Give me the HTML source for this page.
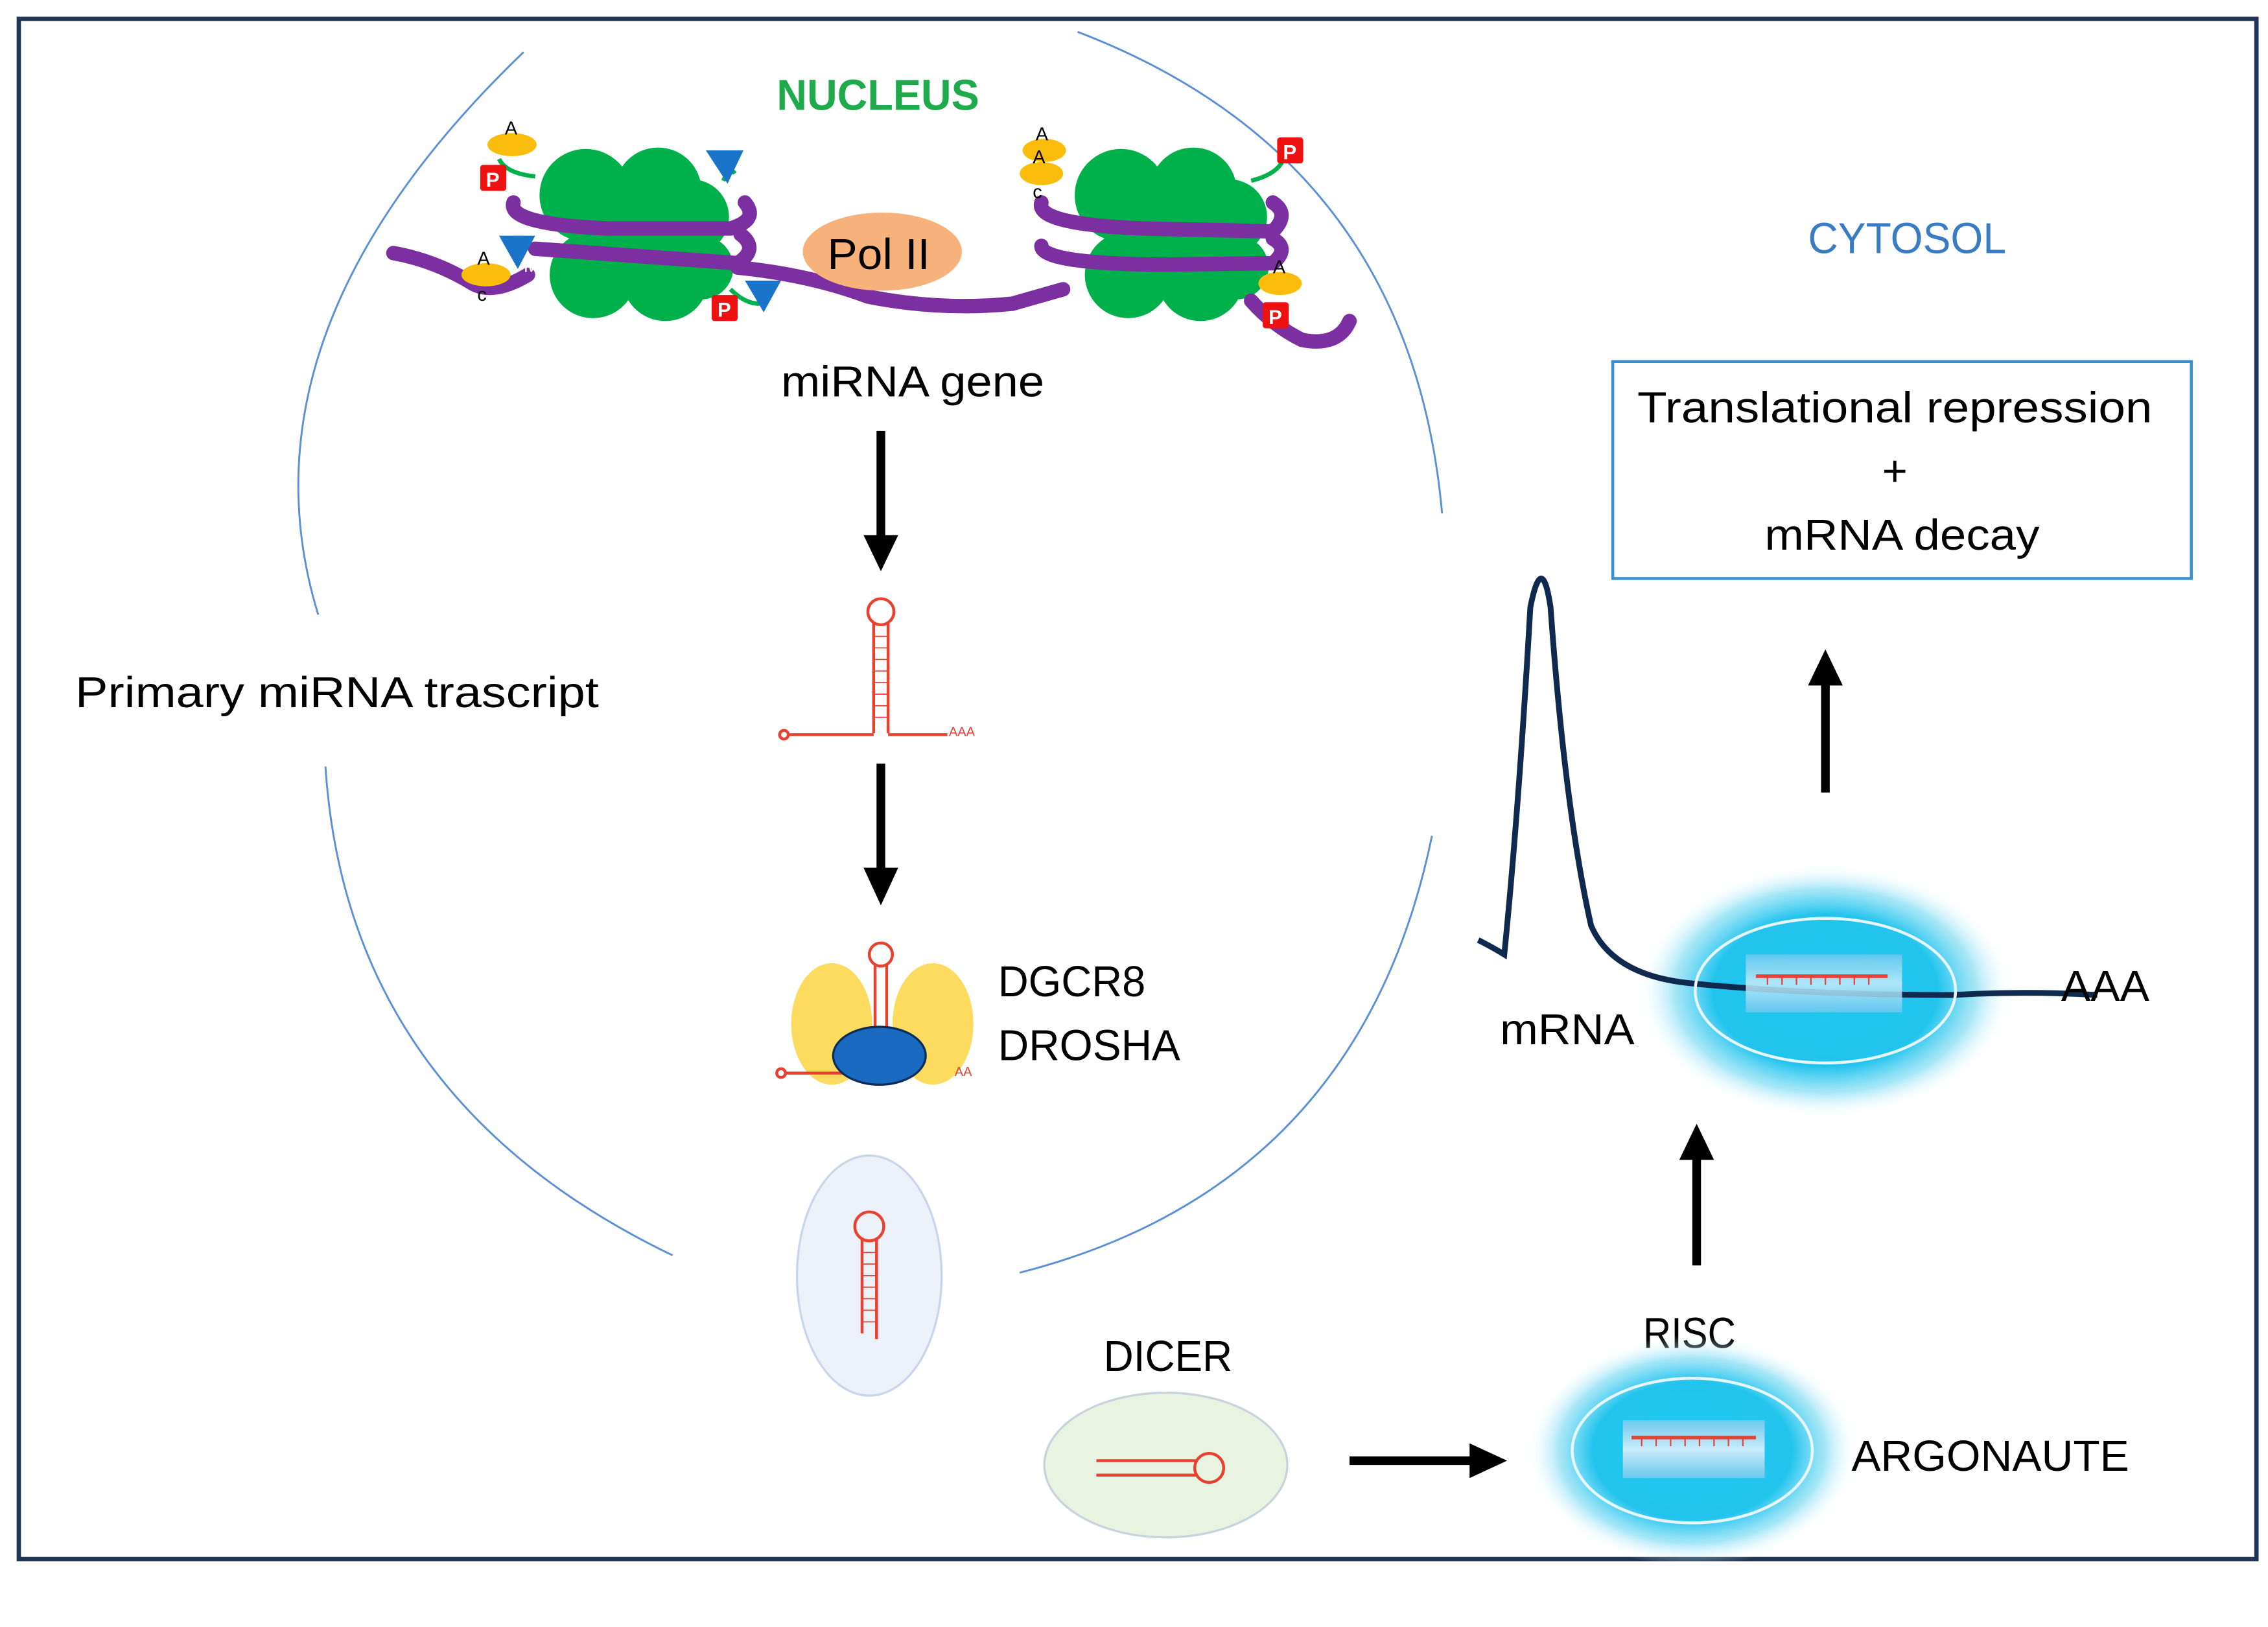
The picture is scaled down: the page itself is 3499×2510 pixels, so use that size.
<!DOCTYPE html>
<html><head><meta charset="utf-8"><style>
html,body{margin:0;padding:0;background:#fff;}
svg{display:block;}
text{font-family:"Liberation Sans","DejaVu Sans",sans-serif;}
</style></head><body>
<svg width="3499" height="2510" viewBox="0 0 1568 1125" preserveAspectRatio="none" xmlns="http://www.w3.org/2000/svg">
<defs>
<radialGradient id="glow" cx="50%" cy="50%" r="50%">
<stop offset="0%" stop-color="#1ec8f0"/>
<stop offset="60%" stop-color="#22c4ee"/>
<stop offset="80%" stop-color="#7fdcf4" stop-opacity="0.7"/>
<stop offset="100%" stop-color="#ffffff" stop-opacity="0"/>
</radialGradient>
<linearGradient id="inner" x1="0" x2="0" y1="0" y2="1">
<stop offset="0%" stop-color="#6cc8ee"/><stop offset="50%" stop-color="#c8ecfa"/><stop offset="100%" stop-color="#6cc8ee"/>
</linearGradient>
</defs>
<rect x="13" y="13" width="1547" height="1065" fill="#fff" stroke="#1f3656" stroke-width="3"/>
<g fill="none" stroke="#5b8fd6" stroke-width="1.3">
<path d="M220,425 Q160,230 362,36"/>
<path d="M745,22 Q975,110 997,355"/>
<path d="M990,578 Q940,820 705,880"/>
<path d="M465,868 Q240,760 225,530"/>
</g>
<text x="537" y="76" font-size="30" font-weight="bold" fill="#1faa4b" textLength="140" lengthAdjust="spacingAndGlyphs">NUCLEUS</text>
<text x="1250" y="175" font-size="30" fill="#3a7cc4" textLength="137" lengthAdjust="spacingAndGlyphs">CYTOSOL</text>
<g fill="#00b04a">
<circle cx="405" cy="135" r="32"/><circle cx="455" cy="132" r="30"/><circle cx="478" cy="150" r="26"/>
<circle cx="410" cy="190" r="30"/><circle cx="460" cy="192" r="30"/><circle cx="485" cy="185" r="22"/>
<circle cx="435" cy="165" r="30"/>
<circle cx="775" cy="135" r="32"/><circle cx="825" cy="132" r="30"/><circle cx="850" cy="150" r="26"/>
<circle cx="780" cy="190" r="30"/><circle cx="830" cy="192" r="30"/><circle cx="855" cy="185" r="22"/>
<circle cx="805" cy="165" r="30"/>
</g>
<g fill="none" stroke="#7b2fa0" stroke-width="10" stroke-linecap="round">
<path d="M355,140 Q350,155 420,158 L505,158 Q525,152 515,140"/>
<path d="M370,172 L510,182 Q525,172 512,162"/>
<path d="M272,175 Q300,180 325,195 Q340,205 365,190"/>
<path d="M510,185 Q560,190 600,205 Q650,215 700,210 L735,200"/>
<path d="M720,140 Q715,155 790,158 L880,160 Q892,148 880,140"/>
<path d="M720,170 Q720,182 800,183 L880,182 Q892,172 880,165"/>
<path d="M865,208 Q880,225 900,235 Q925,240 933,222"/>
</g>
<g fill="none" stroke="#00b04a" stroke-width="3">
<path d="M345,110 Q350,120 370,122"/><path d="M500,125 Q505,115 508,120"/><path d="M865,125 Q885,120 888,108"/><path d="M505,200 Q515,210 525,210"/>
</g>
<g fill="#fbbd0b"><ellipse cx="354" cy="100" rx="17" ry="8"/><ellipse cx="336" cy="190" rx="17" ry="8"/><ellipse cx="722" cy="104" rx="15" ry="8"/><ellipse cx="720" cy="120" rx="15" ry="8"/><ellipse cx="885" cy="196" rx="15" ry="8"/></g>
<g font-size="13" fill="#000"><text x="349" y="93">A</text><text x="330" y="183">A</text><text x="330" y="208">c</text><text x="716" y="97">A</text><text x="714" y="113">A</text><text x="714" y="137">c</text><text x="880" y="189">A</text><text x="362" y="188" fill="#fff">M</text></g>
<g fill="#ee1111"><rect x="332" y="114" width="18" height="18" rx="2"/><rect x="492" y="204" width="18" height="18" rx="2"/><rect x="883" y="95" width="18" height="18" rx="2"/><rect x="873" y="209" width="18" height="18" rx="2"/></g>
<g fill="#fff" font-size="14" font-weight="bold"><text x="336" y="129">P</text><text x="496" y="219">P</text><text x="887" y="110">P</text><text x="877" y="224">P</text></g>
<g fill="#1a74c9"><path d="M488,104 L514,104 L503,127 Z"/><path d="M345,163 L370,163 L358,186 Z"/><path d="M515,194 L540,194 L528,216 Z"/></g>
<ellipse cx="610" cy="174" rx="55" ry="27" fill="#f7b27c"/>
<text x="572" y="186" font-size="30" fill="#000" textLength="71" lengthAdjust="spacingAndGlyphs">Pol II</text>
<text x="540" y="274" font-size="30" fill="#000" textLength="182" lengthAdjust="spacingAndGlyphs">miRNA gene</text>
<text x="52" y="489" font-size="30" fill="#000" textLength="362" lengthAdjust="spacingAndGlyphs">Primary miRNA trascript</text>
<g stroke="#000" stroke-width="6"><line x1="609" y1="298" x2="609" y2="372"/><line x1="609" y1="528" x2="609" y2="602"/><line x1="933" y1="1010" x2="1018" y2="1010"/><line x1="1173" y1="875" x2="1173" y2="800"/><line x1="1262" y1="548" x2="1262" y2="472"/></g>
<g fill="#000"><path d="M597,370 L621,370 L609,395 Z"/><path d="M597,600 L621,600 L609,626 Z"/><path d="M1016,998 L1016,1022 L1042,1010 Z"/><path d="M1161,802 L1185,802 L1173,777 Z"/><path d="M1250,474 L1274,474 L1262,449 Z"/></g>
<g fill="none" stroke="#e8412f" stroke-width="2">
<circle cx="609" cy="423" r="9"/><line x1="604" y1="431" x2="604" y2="507"/><line x1="614" y1="431" x2="614" y2="507"/>
<path d="M545,508 L604,508 M614,508 L655,508"/><circle cx="542" cy="508" r="3"/>
</g>
<g stroke="#e8412f" stroke-width="0.8"><path d="M604,440h10M604,448h10M604,456h10M604,464h10M604,472h10M604,480h10M604,488h10M604,496h10"/></g>
<text x="656" y="509" font-size="9" fill="#e8412f">AAA</text>
<ellipse cx="575" cy="708" rx="28" ry="42" fill="#fddb5e"/><ellipse cx="645" cy="708" rx="28" ry="42" fill="#fddb5e"/>
<g fill="none" stroke="#e8412f" stroke-width="2"><circle cx="609" cy="660" r="8"/><line x1="605" y1="667" x2="605" y2="712"/><line x1="613" y1="667" x2="613" y2="712"/><path d="M543,742 L600,742"/><circle cx="540" cy="742" r="3"/></g>
<text x="660" y="744" font-size="9" fill="#e8412f">AA</text>
<ellipse cx="608" cy="730" rx="32" ry="20" fill="#1a6ac2" stroke="#0c2d5a" stroke-width="1.5"/>
<text x="690" y="689" font-size="30" fill="#000" textLength="102" lengthAdjust="spacingAndGlyphs">DGCR8</text>
<text x="690" y="733" font-size="30" fill="#000" textLength="126" lengthAdjust="spacingAndGlyphs">DROSHA</text>
<ellipse cx="601" cy="882" rx="50" ry="83" fill="#edf2fa" stroke="#c9d6ea" stroke-width="1.5"/>
<g fill="none" stroke="#e8412f" stroke-width="2"><circle cx="601" cy="848" r="10"/><line x1="596" y1="857" x2="596" y2="922"/><line x1="606" y1="857" x2="606" y2="926"/></g>
<g stroke="#e8412f" stroke-width="0.8"><path d="M596,866h10M596,874h10M596,882h10M596,890h10M596,898h10M596,906h10M596,914h10"/></g>
<text x="763" y="948" font-size="30" fill="#000" textLength="89" lengthAdjust="spacingAndGlyphs">DICER</text>
<ellipse cx="806" cy="1013" rx="84" ry="50" fill="#e9f3e2" stroke="#c8d4dc" stroke-width="1.5"/>
<g fill="none" stroke="#e8412f" stroke-width="2"><circle cx="836" cy="1015" r="10"/><line x1="758" y1="1010" x2="828" y2="1010"/><line x1="758" y1="1020" x2="828" y2="1020"/></g>
<text x="1136" y="932" font-size="30" fill="#000" textLength="64" lengthAdjust="spacingAndGlyphs">RISC</text>
<ellipse cx="1170" cy="1003" rx="115" ry="80" fill="url(#glow)"/>
<ellipse cx="1170" cy="1003" rx="83" ry="50" fill="none" stroke="#e6f6fc" stroke-width="2"/>
<rect x="1122" y="982" width="98" height="40" fill="url(#inner)"/>
<g stroke="#e8412f" stroke-width="2.5"><line x1="1128" y1="994" x2="1214" y2="994"/></g>
<g stroke="#e8412f" stroke-width="1"><path d="M1135,994v6M1145,994v6M1155,994v6M1165,994v6M1175,994v6M1185,994v6M1195,994v6M1205,994v6"/></g>
<text x="1280" y="1017" font-size="30" fill="#000" textLength="192" lengthAdjust="spacingAndGlyphs">ARGONAUTE</text>
<ellipse cx="1262" cy="685" rx="130" ry="88" fill="url(#glow)"/>
<path d="M1022,650 Q1032,655 1040,660 Q1050,560 1058,420 Q1066,380 1072,420 Q1082,560 1100,640 Q1115,675 1170,680 Q1250,688 1350,688 Q1400,685 1450,688" fill="none" stroke="#0f2a4e" stroke-width="4"/>
<ellipse cx="1262" cy="685" rx="90" ry="50" fill="none" stroke="#e6f6fc" stroke-width="2"/>
<rect x="1207" y="660" width="108" height="40" fill="url(#inner)" opacity="0.85"/>
<g stroke="#e8412f" stroke-width="2.5"><line x1="1214" y1="675" x2="1305" y2="675"/></g>
<g stroke="#e8412f" stroke-width="1"><path d="M1222,675v6M1232,675v6M1242,675v6M1252,675v6M1262,675v6M1272,675v6M1282,675v6M1292,675v6"/></g>
<text x="1037" y="722" font-size="30" fill="#000" textLength="93" lengthAdjust="spacingAndGlyphs">mRNA</text>
<text x="1425" y="692" font-size="30" fill="#000" textLength="61" lengthAdjust="spacingAndGlyphs">AAA</text>
<rect x="1115" y="250" width="400" height="150" fill="#fff" stroke="#3a8fd0" stroke-width="2"/>
<text x="1132" y="292" font-size="30" fill="#000" textLength="356" lengthAdjust="spacingAndGlyphs">Translational repression</text>
<text x="1310" y="336" font-size="30" text-anchor="middle" fill="#000">+</text>
<text x="1220" y="380" font-size="30" fill="#000" textLength="190" lengthAdjust="spacingAndGlyphs">mRNA decay</text>
</svg>
</body></html>
